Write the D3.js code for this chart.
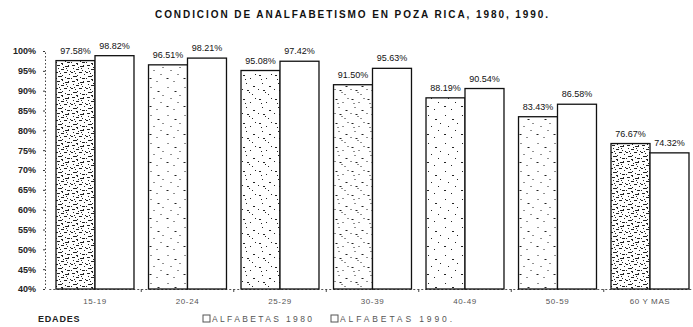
<!DOCTYPE html>
<html>
<head>
<meta charset="utf-8">
<script src="https://cdn.jsdelivr.net/npm/d3@7"></script>
<style>
  html, body { margin: 0; padding: 0; background: #fff; }
  svg { display: block; font-family: "Liberation Sans", Arial, sans-serif; }
</style>
</head>
<body>
<svg id="chart" width="693" height="327"></svg>
<script>
// Age groups and literacy rates (%) for Poza Rica
const categories = ["15-19", "20-24", "25-29", "30-39", "40-49", "50-59", "60 Y MAS"];
const alfabetas1980 = [97.58, 96.51, 95.08, 91.50, 88.19, 83.43, 76.67];
const alfabetas1990 = [98.82, 98.21, 97.42, 95.63, 90.54, 86.58, 74.32];
const seriesNames = ["ALFABETAS 1980", "ALFABETAS 1990."];
const yTicks = [40, 45, 50, 55, 60, 65, 70, 75, 80, 85, 90, 95, 100];

const svg = d3.select("#chart");

// stipple textures for the 1980 bars
const defs = svg.append("defs");
function stipple(id, marks, size) {
  const p = defs.append("pattern").attr("id", id)
    .attr("patternUnits", "userSpaceOnUse")
    .attr("width", size[0]).attr("height", size[1]);
  p.append("rect").attr("width", size[0]).attr("height", size[1]).attr("fill", "#fff");
  marks.forEach(m => p.append("rect")
    .attr("x", m[0]).attr("y", m[1]).attr("width", m[2]).attr("height", m[3])
    .attr("fill", "#222"));
}
stipple("dense", [
  [1,1,3,1],[6,0,1,1],[9,2,4,1],[2,4,1,1],[5,5,3,1],[11,6,1,1],
  [0,8,2,1],[4,9,1,1],[8,8,3,1],[13,10,1,1],[2,12,4,1],[9,13,1,1],
  [6,11,1,1],[12,1,1,1],[0,14,1,1],[11,14,3,1],[7,3,1,1],[3,7,1,1],
  [10,4,1,1],[14,7,1,1],[5,15,2,1]
], [15, 16]);
stipple("light", [
  [2,3,1,1],[9,7,2,1],[5,14,1,1],[12,18,1,1],[1,22,2,1],[8,25,1,1],[14,11,1,1]
], [17, 28]);
stipple("medium", [
  [2,3,2,1],[9,6,1,1],[5,11,1,1],[12,14,2,1],[1,17,1,1],[8,20,1,1],
  [14,2,1,1],[4,7,1,1],[11,22,1,1],[6,18,2,1]
], [16, 24]);
const fill1980 = ["url(#dense)", "url(#light)", "url(#medium)", "url(#medium)", "url(#light)", "url(#light)", "url(#dense)"];

const x = d3.scaleBand().domain(categories).range([48.75, 696.25])
  .paddingInner(0.157).paddingOuter(0.0785);
const xs = d3.scaleBand().domain([0, 1]).range([0, x.bandwidth()]);
const y = d3.scaleLinear().domain([40, 100]).range([289, 51]);

// title
svg.append("text")
  .attr("x", 155).attr("y", 18)
  .attr("textLength", 393).attr("lengthAdjust", "spacing")
  .attr("font-size", 10).attr("font-weight", "bold").attr("fill", "#111")
  .text("CONDICION DE ANALFABETISMO EN POZA RICA, 1980, 1990.");

// y axis: dotted line, ticks and labels
const yAxis = svg.append("g").attr("transform", "translate(45,0)")
  .call(d3.axisLeft(y).tickValues(yTicks).tickSize(2).tickPadding(7)
    .tickFormat(d => d + "%"));
yAxis.select(".domain").attr("stroke", "#444").attr("stroke-dasharray", "1.5,2");
yAxis.selectAll(".tick line").attr("stroke", "#333");
yAxis.selectAll(".tick text").attr("font-size", 9).attr("font-weight", "bold")
  .attr("fill", "#222").attr("font-family", "Liberation Sans, Arial, sans-serif");

// x axis baseline with marks between groups
const xAxis = svg.append("g").attr("transform", "translate(0,289)")
  .call(d3.axisBottom(x).tickSize(0).tickPadding(9));
xAxis.select(".domain").attr("stroke", "#555").attr("stroke-dasharray", "2,2");
xAxis.selectAll(".tick text").attr("font-size", 8).attr("fill", "#555")
  .attr("letter-spacing", 0.6).attr("font-family", "Liberation Sans, Arial, sans-serif");
svg.append("g").selectAll("line")
  .data(categories.slice(1))
  .join("line")
  .attr("x1", d => x(d) - x.step() * x.paddingInner() / 2)
  .attr("x2", d => x(d) - x.step() * x.paddingInner() / 2)
  .attr("y1", 289).attr("y2", 292)
  .attr("stroke", "#444").attr("stroke-width", 1);

// bars
const groups = svg.append("g").selectAll("g")
  .data(categories)
  .join("g")
  .attr("transform", d => `translate(${x(d)},0)`);

groups.append("rect")
  .attr("x", xs(0)).attr("width", xs.bandwidth())
  .attr("y", (d, i) => y(alfabetas1980[i]))
  .attr("height", (d, i) => y(40) - y(alfabetas1980[i]))
  .attr("fill", (d, i) => fill1980[i])
  .attr("stroke", "#111").attr("stroke-width", 1.3);

groups.append("rect")
  .attr("x", xs(1)).attr("width", xs.bandwidth())
  .attr("y", (d, i) => y(alfabetas1990[i]))
  .attr("height", (d, i) => y(40) - y(alfabetas1990[i]))
  .attr("fill", "#fff")
  .attr("stroke", "#111").attr("stroke-width", 1.3);

// value labels
function label(values, k) {
  groups.append("text")
    .attr("x", xs(k) + xs.bandwidth() / 2)
    .attr("y", (d, i) => y(values[i]) - 7)
    .attr("text-anchor", "middle")
    .attr("font-size", 9).attr("fill", "#111")
    .text((d, i) => values[i].toFixed(2) + "%");
}
label(alfabetas1980, 0);
label(alfabetas1990, 1);

// axis title
svg.append("text").attr("x", 38).attr("y", 322)
  .attr("font-size", 9).attr("font-weight", "bold").attr("fill", "#222")
  .attr("letter-spacing", 0.8)
  .text("EDADES");

// legend
const legend = svg.append("g").attr("transform", "translate(203,322)");
const legendX = [0, 128];
const legendW = [100, 112];
seriesNames.forEach((name, i) => {
  legend.append("rect").attr("x", legendX[i]).attr("y", -7)
    .attr("width", 7).attr("height", 7)
    .attr("fill", "#fff").attr("stroke", "#555").attr("stroke-width", 1);
  legend.append("text").attr("x", legendX[i] + 9).attr("y", 0)
    .attr("textLength", legendW[i]).attr("lengthAdjust", "spacing")
    .attr("font-size", 8.5).attr("fill", "#555")
    .text(name);
});
</script>
</body>
</html>
